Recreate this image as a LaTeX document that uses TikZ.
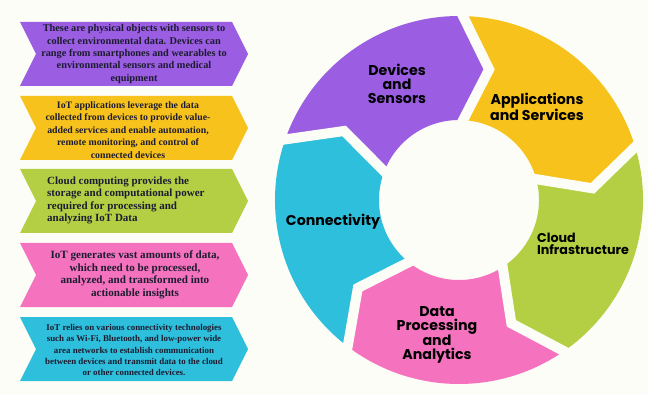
\documentclass[tikz,border=0pt]{standalone}
\usepackage{fontspec}
\setmainfont{Liberation Serif}
\newfontfamily\labelfont{Poppins}
\begin{document}
\definecolor{bgc}{HTML}{FCFDF6}
\definecolor{cpurple}{HTML}{9B5DE2}
\definecolor{corange}{HTML}{F8C21C}
\definecolor{cgreen}{HTML}{B4CF44}
\definecolor{cpink}{HTML}{F572BE}
\definecolor{cblue}{HTML}{2EBFDC}
\definecolor{ctext}{HTML}{1C1C30}
\begin{tikzpicture}[x=1pt,y=1pt,
  infotext/.style={text=ctext,font=\bfseries, align=center, inner sep=0pt},
  ringlabel/.style={text=black, font=\labelfont\bfseries\fontsize{14.2}{14}\selectfont, align=center, inner sep=0pt},
  gapline/.style={draw=bgc, line width=10pt, line join=miter, miter limit=10}]
\fill[bgc] (0,0) rectangle (648,394);
\useasboundingbox (0,0) rectangle (648,394);

% left column of chevron boxes: top edge y, colour
\newcommand\infobox[2]{%
  \fill[#2] (20,#1) -- (232,#1) -- (248,#1-32) -- (232,#1-64) -- (20,#1-64) -- (36,#1-32) -- cycle;}
\infobox{372}{cpurple}
\infobox{298}{corange}
\infobox{225}{cgreen}
\infobox{151}{cpink}
\infobox{77}{cblue}

\node[infotext, font=\bfseries\fontsize{10.3}{12.3}\selectfont] (t1) at (134,340)
  {These are physical objects with sensors to\\collect environmental data. Devices can\\range from smartphones and wearables to\\environmental sensors and medical\\equipment};
\node[infotext, font=\bfseries\fontsize{9.8}{12.4}\selectfont] (t2) at (128,264)
  {IoT applications leverage the data\\collected from devices to provide value-\\added services and enable automation,\\remote monitoring, and control of\\connected devices};
\node[infotext, align=left, anchor=west, font=\bfseries\fontsize{11}{12.5}\selectfont] (t3) at (47,193.5)
  {Cloud computing provides the\\storage and computational power\\required for processing and\\analyzing IoT Data};
\node[infotext, font=\bfseries\fontsize{11.1}{12.6}\selectfont] (t4) at (135,119)
  {IoT generates vast amounts of data,\\which need to be processed,\\analyzed, and transformed into\\actionable insights};
\node[infotext, font=\bfseries\fontsize{8.9}{11.3}\selectfont] (t5) at (134,44)
  {IoT relies on various connectivity technologies\\such as Wi-Fi, Bluetooth, and low-power wide\\area networks to establish communication\\between devices and transmit data to the cloud\\or other connected devices.};

% cycle ring: five arrow-shaped segments
\begin{scope}[shift={(459,194)}]
  \def\Ro{184}\def\Ri{80}\def\Rm{134}\def\tw{13}
  \newcommand\ringseg[2]{%
    \pgfmathsetmacro\ta{#1}\pgfmathsetmacro\tb{#1-72}%
    \pgfmathsetmacro\tp{\tb-\tw}\pgfmathsetmacro\tn{\ta-\tw}%
    \fill[#2] (\ta:\Ro) arc[start angle=\ta, end angle=\tb, radius=\Ro]
      -- (\tp:\Rm) -- (\tb:\Ri) arc[start angle=\tb, end angle=\ta, radius=\Ri]
      -- (\tn:\Rm) -- cycle;}
  \ringseg{162}{cpurple}
  \ringseg{90}{corange}
  \ringseg{18}{cgreen}
  \ringseg{-54}{cpink}
  \ringseg{-126}{cblue}
  \foreach \d in {90,18,-54,-126,162}{
    \pgfmathsetmacro\dv{\d-\tw}
    \draw[gapline] (\d:\Ro+8) -- (\dv:\Rm) -- (\d:\Ri-8);
  }
\end{scope}

\node[ringlabel] (devices) at (397,310) {Devices\\and\\Sensors};
\node[ringlabel] (apps) at (537,287) {Applications\\and Services};
\node[ringlabel] (conn) at (333,172) {Connectivity};
\node[ringlabel, align=left, font=\labelfont\bfseries\fontsize{12.7}{12.5}\selectfont] (cloud) at (583,150) {Cloud\\Infrastructure};
\node[ringlabel] (data) at (437,59) {Data\\Processing\\and\\Analytics};
\end{tikzpicture}
\end{document}
